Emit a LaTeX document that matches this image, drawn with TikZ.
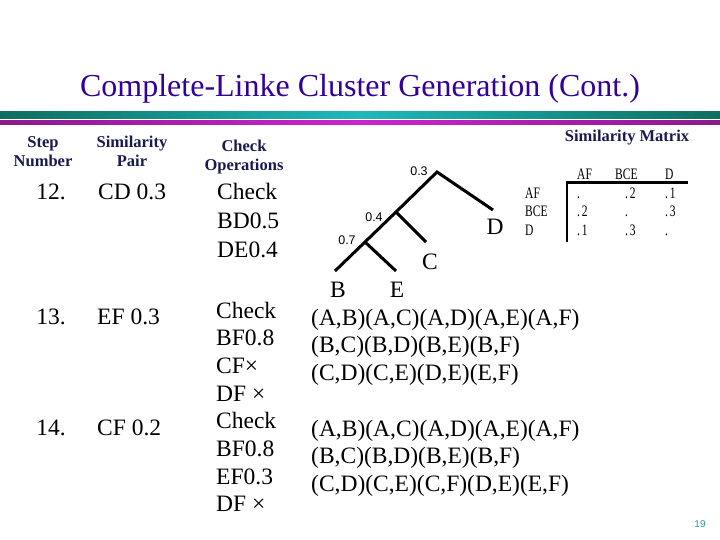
\documentclass[tikz,border=0pt]{standalone}
\usepackage{fontspec}
\setmainfont{Liberation Serif}
\newfontfamily\smallsans{Liberation Sans}
\newfontfamily\matserif[FakeStretch=0.72]{Liberation Serif}

\definecolor{titleblue}{RGB}{51,0,153}
\definecolor{headnavy}{RGB}{25,25,80}
\definecolor{tealdark}{RGB}{15,110,95}
\definecolor{teallight}{RGB}{30,185,185}
\definecolor{magdark}{RGB}{140,25,140}
\definecolor{maglight}{RGB}{205,35,205}
\definecolor{pageteal}{RGB}{40,160,170}

\newcommand\mval[1]{.\kern1.8pt#1}

\begin{document}
\begin{tikzpicture}[x=1pt, y=-1pt,
  body/.style={font=\fontsize{23.5}{28}\selectfont, inner sep=0pt, anchor=base west},
  head/.style={font=\fontsize{16.5}{19}\selectfont\bfseries, text=headnavy, align=center, inner sep=0pt},
  small/.style={font=\smallsans\fontsize{12.5}{15}\selectfont, inner sep=0pt},
  matx/.style={font=\matserif\fontsize{16}{18}\selectfont, inner sep=0pt, anchor=base west},
  branch/.style={line width=3pt}]

\useasboundingbox (0,0) rectangle (720,540);

% Barras
\shade[left color=tealdark, right color=tealdark, middle color=teallight] (0,112) rectangle (720,118.3);
\shade[left color=magdark, right color=magdark, middle color=maglight] (0,121) rectangle (720,125);

\node[font=\fontsize{32}{38}\selectfont, text=titleblue, inner sep=0pt, anchor=base] (title) at (360,97) {Complete-Linke Cluster Generation (Cont.)};

% Cabeceras
\node[head] (step) at (43,151.5) {Step\\Number};
\node[head] (pair) at (132,151.5) {Similarity\\Pair};
\node[head] (ops) at (244,157) {Check\\Operations};
\node[head] (simmat) at (627,138) {Similarity Matrix};

% Pasos
\node[body, anchor=base east] (s12) at (66,200) {12.};
\node[body] (p12) at (98,200) {CD 0.3};
\node[body, anchor=base east] (s13) at (66,324) {13.};
\node[body] (p13) at (97,324) {EF 0.3};
\node[body, anchor=base east] (s14) at (66,435) {14.};
\node[body] (p14) at (97,435) {CF 0.2};

\foreach \t [count=\i from 0] in {Check, BD0.5, DE0.4}
	\node[body] (opa\i) at (217,200+28.5*\i) {\t};

\foreach \t [count=\i from 0] in {Check, BF0.8, CF×, DF ×, Check, BF0.8, EF0.3, DF ×}
	\node[body] (opb\i) at (216,318+27.7*\i) {\t};

% Pares
\foreach \t [count=\i from 0] in {{(A,B)(A,C)(A,D)(A,E)(A,F)}, {(B,C)(B,D)(B,E)(B,F)}, {(C,D)(C,E)(D,E)(E,F)}}
	\node[body] (pa\i) at (311,325+27.5*\i) {\t};

\foreach \t [count=\i from 0] in {{(A,B)(A,C)(A,D)(A,E)(A,F)}, {(B,C)(B,D)(B,E)(B,F)}, {(C,D)(C,E)(C,F)(D,E)(E,F)}}
	\node[body] (pb\i) at (311,436+27.5*\i) {\t};

% Dendrograma
\coordinate (n03) at (437,172);
\coordinate (n04) at (396,212);
\coordinate (n07) at (365,242);
\coordinate (endD) at (493,210);
\coordinate (endC) at (426,242);
\coordinate (endE) at (396,271);
\coordinate (endB) at (335,271);

\draw[branch] (endB) -- (n07) -- (n04) -- (n03) -- (endD);
\draw[branch] (n07) -- (endE);
\draw[branch] (n04) -- (endC);

\node[small] (l03) at (419,171) {0.3};
\node[small] (l04) at (374,217) {0.4};
\node[small] (l07) at (347,240) {0.7};

\node[body, anchor=base] (D) at (495,234) {D};
\node[body, anchor=base] (C) at (430,269) {C};
\node[body, anchor=base] (B) at (338,297) {B};
\node[body, anchor=base] (E) at (397,297) {E};

% Matriz
\foreach \t/\x in {AF/577, BCE/615, D/665}
	\node[matx] (c\t) at (\x,180) {\t};

\foreach \t/\y in {AF/198.5, BCE/217, D/235.5}
	\node[matx] (r\t) at (525,\y) {\t};

\foreach \y/\a/\b/\c [count=\i] in {198.5/./\mval2/\mval1, 217/\mval2/./\mval3, 235.5/\mval1/\mval3/.}
{
	\node[matx] (m\i a) at (577,\y) {\a};
	\node[matx] (m\i b) at (625,\y) {\b};
	\node[matx] (m\i c) at (665,\y) {\c};
}

\coordinate (mtl) at (567,182.5);
\coordinate (mtr) at (688,182.5);
\coordinate (mbl) at (567,242);
\draw[line width=2.5pt] (mtr) -- (mtl) -- (mbl);

\node[font=\smallsans\fontsize{10}{12}\selectfont, text=pageteal, inner sep=0pt] (pnum) at (700,524) {19};
\end{tikzpicture}
\end{document}
